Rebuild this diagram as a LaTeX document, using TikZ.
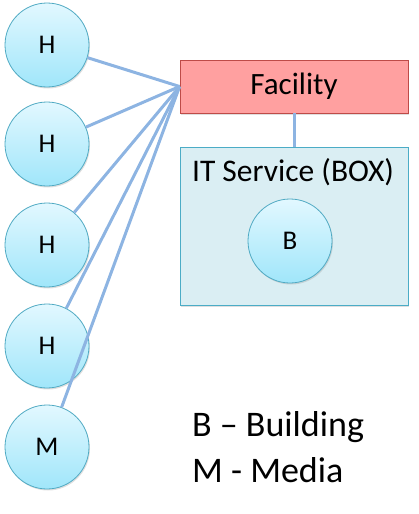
\documentclass[tikz,border=0pt]{standalone}
\usepackage{fontspec}
\setmainfont{Carlito}
\usetikzlibrary{shadows}
\definecolor{hubtop}{RGB}{226,248,255}
\definecolor{hubbot}{RGB}{160,230,250}
\definecolor{hubline}{RGB}{80,170,195}
\definecolor{facfill}{RGB}{255,160,160}
\definecolor{facline}{RGB}{190,75,72}
\definecolor{boxfill}{RGB}{218,238,243}
\definecolor{boxline}{RGB}{75,172,198}
\definecolor{link}{RGB}{141,180,226}
\tikzset{
  hub/.style={circle, minimum size=84pt, inner sep=0pt, draw=hubline, line width=0.8pt,
    top color=hubtop, bottom color=hubbot,
    drop shadow={opacity=0.25, shadow xshift=1pt, shadow yshift=-1.5pt},
    font=\fontsize{27}{32}\selectfont},
  link/.style={draw=link, line width=3pt}
}
\begin{document}
\begin{tikzpicture}[x=1pt, y=-1pt]
    \useasboundingbox (0,0) rectangle (419,514);
    % Facility
    \node[rectangle, minimum width=228pt, minimum height=53pt, fill=facfill, draw=facline, line width=0.8pt,
      drop shadow={opacity=0.25, shadow xshift=1pt, shadow yshift=-1.5pt},
      font=\fontsize{31}{36}\selectfont] (fac) at (294,86.5) {Facility};
    % IT Service (BOX)
    \node[rectangle, minimum width=228pt, minimum height=158pt, fill=boxfill, draw=boxline, line width=0.8pt,
      drop shadow={opacity=0.25, shadow xshift=1pt, shadow yshift=-1.5pt}] (box) at (294,226) {};
    \node[font=\fontsize{31.5}{36}\selectfont] (boxlabel) at (293,172) {IT Service (BOX)};
    \node[hub] (b) at (290,241) {B};
    \draw[link] (fac.south) -- (box.north);
    % H / M
    \node[hub] (h1) at (47,45) {H};
    \node[hub] (h2) at (47,144) {H};
    \node[hub] (h3) at (47,245) {H};
    \node[hub] (h4) at (47,346) {H};
    \node[hub] (m) at (47,447) {M};
    \foreach \n in {h1,h2,h3,h4,m}
      \draw[link] (fac.west) -- (\n);
    % legend
    \node[anchor=base west, inner sep=0pt, font=\fontsize{36}{42}\selectfont] (legb) at (192,436) {B – Building};
    \node[anchor=base west, inner sep=0pt, font=\fontsize{36}{42}\selectfont] (legm) at (192,482) {M - Media};
\end{tikzpicture}
\end{document}
